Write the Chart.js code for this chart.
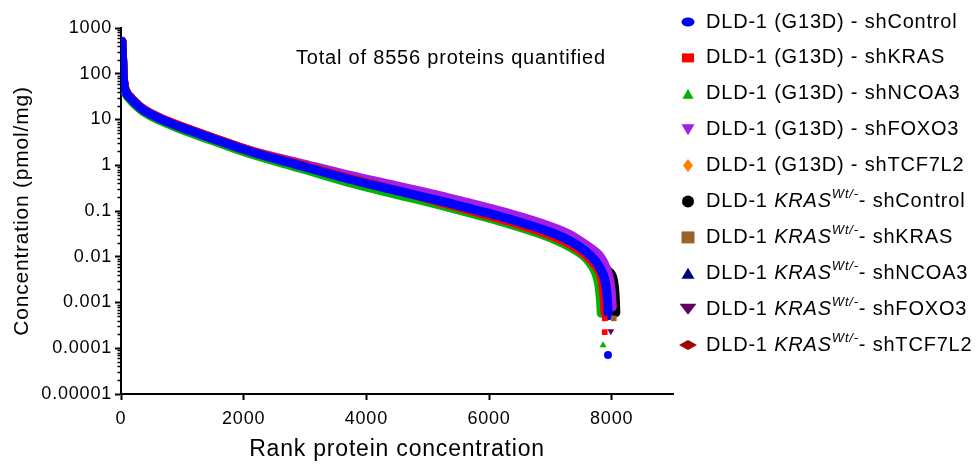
<!DOCTYPE html>
<html>
<head>
<meta charset="utf-8">
<script src="https://cdn.jsdelivr.net/npm/chart.js@4.4.1/dist/chart.umd.min.js"></script>
<style>
  html, body { margin: 0; padding: 0; background: #fff; }
  canvas { display: block; }
</style>
</head>
<body>
<canvas id="chart" width="978" height="464"></canvas>
<script>
// rank positions shared by every series for the main body of the curve
const ranks = [15, 25, 35, 49, 82, 147, 261, 359, 637, 914, 1453, 2106, 2923, 3739, 4555, 5371, 6351, 7004, 7331, 7576];

// concentrations (pmol/mg) at those ranks
const g13dControl = [507, 216, 92, 56, 39.5, 29.9, 21.0, 16.4, 10.4, 7.3, 4.0, 1.99, 0.98, 0.488, 0.267, 0.146, 0.0657, 0.0342, 0.0218, 0.0132];
const g13dKRAS    = [520, 235, 100, 60, 42, 31.5, 22.1, 17.2, 10.9, 7.7, 4.2, 2.09, 1.03, 0.51, 0.27, 0.135, 0.058, 0.0295, 0.0185, 0.011];
const g13dNCOA3   = [495, 205, 86, 52, 36.5, 27.5, 19.2, 15.0, 9.5, 6.6, 3.6, 1.78, 0.86, 0.41, 0.22, 0.117, 0.051, 0.026, 0.016, 0.0095];
const g13dFOXO3   = [500, 212, 90, 55, 39, 29.5, 20.8, 16.2, 10.3, 7.3, 4.1, 2.1, 1.12, 0.60, 0.34, 0.19, 0.087, 0.046, 0.030, 0.0185];
const g13dTCF7L2  = [490, 210, 89, 54, 38.5, 29, 20.3, 15.9, 10.0, 7.0, 3.85, 1.9, 0.93, 0.46, 0.25, 0.137, 0.061, 0.032, 0.0203, 0.0122];
const wtControl   = [510, 220, 94, 57, 40, 30.3, 21.3, 16.6, 10.6, 7.4, 4.1, 2.03, 1.0, 0.50, 0.275, 0.15, 0.068, 0.0355, 0.0227, 0.0140];
const wtKRAS      = [485, 208, 88, 53, 38, 28.8, 20.2, 15.8, 10.0, 7.0, 3.8, 1.88, 0.92, 0.455, 0.248, 0.134, 0.060, 0.031, 0.0197, 0.0118];
const wtNCOA3     = [480, 205, 87, 52.5, 37.5, 28.3, 19.9, 15.5, 9.8, 6.9, 3.75, 1.84, 0.90, 0.445, 0.24, 0.13, 0.058, 0.030, 0.019, 0.0114];
const wtFOXO3     = [500, 214, 92, 56, 39.5, 29.8, 21.0, 16.5, 10.5, 7.4, 4.1, 2.05, 1.03, 0.52, 0.29, 0.16, 0.073, 0.038, 0.0245, 0.015];
const wtTCF7L2    = [495, 212, 91, 55, 39, 29.4, 20.6, 16.1, 10.2, 7.15, 3.92, 1.95, 0.96, 0.475, 0.26, 0.142, 0.064, 0.0333, 0.0212, 0.0128];

// steep tail of each curve, [rank, concentration]
const g13dControlTail = [[7739, 0.00798], [7820, 0.00534], [7886, 0.00324], [7918, 0.00177], [7935, 0.00092], [7943, 0.00051]];
const g13dKRASTail    = [[7739, 0.0064], [7820, 0.0041], [7860, 0.0022], [7880, 0.0011], [7888, 0.00062]];
const g13dNCOA3Tail   = [[7690, 0.0060], [7760, 0.0037], [7800, 0.0020], [7820, 0.0010], [7830, 0.00058]];
const g13dFOXO3Tail   = [[7739, 0.0128], [7820, 0.0098], [7900, 0.0062], [7960, 0.0035], [7995, 0.0017], [8010, 0.0008]];
const g13dTCF7L2Tail  = [[7739, 0.0074], [7820, 0.0049], [7880, 0.0029], [7910, 0.0015], [7925, 0.0008]];
const wtControlTail   = [[7739, 0.0088], [7850, 0.0065], [7950, 0.0048], [8030, 0.0030], [8058, 0.0013], [8068, 0.0006]];
const wtKRASTail      = [[7739, 0.0071], [7820, 0.0050], [7900, 0.0032], [7970, 0.0017], [8000, 0.0009], [8015, 0.0006]];
const wtNCOA3Tail     = [[7739, 0.0068], [7820, 0.0046], [7880, 0.0027], [7920, 0.0014], [7935, 0.0007]];
const wtFOXO3Tail     = [[7739, 0.0092], [7850, 0.0065], [7930, 0.0038], [7980, 0.0018], [8000, 0.0008]];
const wtTCF7L2Tail    = [[7739, 0.0078], [7820, 0.0052], [7900, 0.0030], [7950, 0.0015], [7975, 0.0007]];

// lowest, isolated proteins below the tails
const g13dControlLow = [[7940, 0.0000714]];
const g13dKRASLow    = [[7887, 0.00045], [7887, 0.000225]];
const g13dNCOA3Low   = [[7860, 0.000117]];
const wtKRASLow      = [[8034, 0.00045]];
const wtFOXO3Low     = [[7986, 0.000236]];

const hairpins = ['shControl', 'shKRAS', 'shNCOA3', 'shFOXO3', 'shTCF7L2'];
const yTickValues = [0.00001, 0.0001, 0.001, 0.01, 0.1, 1, 10, 100, 1000];
const yTickLabels = ['0.00001', '0.0001', '0.001', '0.01', '0.1', '1', '10', '100', '1000'];
const xTickValues = [0, 2000, 4000, 6000, 8000];
const xTickLabels = ['0', '2000', '4000', '6000', '8000'];
const noteText = 'Total of 8556 proteins quantified';

const FONT = '"Liberation Sans", Arial, Helvetica, sans-serif';

const series = [
  { body: g13dControl, tail: g13dControlTail, low: g13dControlLow, color: '#0000ff', style: 'circle', w: 13, h: 9 },
  { body: g13dKRAS, tail: g13dKRASTail, low: g13dKRASLow, color: '#ff0000', style: 'rect', w: 12, h: 9 },
  { body: g13dNCOA3, tail: g13dNCOA3Tail, low: g13dNCOA3Low, color: '#00b400', style: 'triangle', w: 11, h: 10 },
  { body: g13dFOXO3, tail: g13dFOXO3Tail, low: [], color: '#a31ee6', style: 'triangleDown', w: 13, h: 11 },
  { body: g13dTCF7L2, tail: g13dTCF7L2Tail, low: [], color: '#ff8000', style: 'diamond', w: 10, h: 13 },
  { body: wtControl, tail: wtControlTail, low: [], color: '#000000', style: 'circle', w: 12, h: 12 },
  { body: wtKRAS, tail: wtKRASTail, low: wtKRASLow, color: '#996326', style: 'rect', w: 13, h: 12 },
  { body: wtNCOA3, tail: wtNCOA3Tail, low: [], color: '#00007f', style: 'triangle', w: 13, h: 11 },
  { body: wtFOXO3, tail: wtFOXO3Tail, low: wtFOXO3Low, color: '#650063', style: 'triangleDown', w: 17, h: 11 },
  { body: wtTCF7L2, tail: wtTCF7L2Tail, low: [], color: '#a00000', style: 'diamond', w: 18, h: 10 }
];

function labelParts(i) {
  if (i < 5) return [{ t: 'DLD-1 (G13D) - ' + hairpins[i] }];
  return [{ t: 'DLD-1 ' }, { t: 'KRAS', it: true }, { t: 'Wt/-', it: true, sup: true }, { t: '- ' + hairpins[i - 5] }];
}

const chartPointStyle = { circle: 'circle', rect: 'rect', triangle: 'triangle', triangleDown: 'triangle', diamond: 'rectRot' };

const bandSets = series.map((s, i) => ({
  label: labelParts(i).map(p => p.t).join(''),
  data: ranks.map((r, j) => ({ x: r, y: s.body[j] })).concat(s.tail.map(p => ({ x: p[0], y: p[1] }))),
  showLine: true,
  borderColor: s.color,
  backgroundColor: s.color,
  borderWidth: 9,
  borderCapStyle: 'round',
  borderJoinStyle: 'round',
  cubicInterpolationMode: 'monotone',
  pointRadius: 0,
  order: i
}));

const lowSets = series.filter(s => s.low.length).map(s => ({
  label: 'low',
  data: s.low.map(p => ({ x: p[0], y: p[1] })),
  showLine: false,
  pointStyle: chartPointStyle[s.style],
  rotation: s.style === 'triangleDown' ? 180 : 0,
  pointRadius: 4,
  backgroundColor: s.color,
  borderColor: s.color,
  borderWidth: 0,
  order: -1
}));

function drawMarker(ctx, style, x, y, w, h, color) {
  ctx.fillStyle = color;
  ctx.beginPath();
  if (style === 'circle') ctx.ellipse(x, y, w / 2, h / 2, 0, 0, Math.PI * 2);
  else if (style === 'rect') ctx.rect(x - w / 2, y - h / 2, w, h);
  else if (style === 'triangle') { ctx.moveTo(x, y - h / 2); ctx.lineTo(x + w / 2, y + h / 2); ctx.lineTo(x - w / 2, y + h / 2); }
  else if (style === 'triangleDown') { ctx.moveTo(x, y + h / 2); ctx.lineTo(x + w / 2, y - h / 2); ctx.lineTo(x - w / 2, y - h / 2); }
  else if (style === 'diamond') { ctx.moveTo(x, y - h / 2); ctx.lineTo(x + w / 2, y); ctx.lineTo(x, y + h / 2); ctx.lineTo(x - w / 2, y); }
  ctx.closePath();
  ctx.fill();
}

const decor = {
  id: 'decor',
  beforeDraw(chart) {
    chart.ctx.letterSpacing = '0.8px';
  },
  afterDraw(chart) {
    const ctx = chart.ctx;
    const yScale = chart.scales.y;
    const left = chart.chartArea.left;
    ctx.save();

    // minor log ticks on the y axis
    ctx.strokeStyle = '#000';
    ctx.lineWidth = 1.5;
    for (let k = -5; k < 3; k++) {
      for (let m = 2; m < 10; m++) {
        const py = Math.round(yScale.getPixelForValue(m * Math.pow(10, k))) + 0.5;
        ctx.beginPath();
        ctx.moveTo(left - 3.5, py);
        ctx.lineTo(left, py);
        ctx.stroke();
      }
    }

    ctx.fillStyle = '#000';
    ctx.textBaseline = 'middle';
    ctx.textAlign = 'left';
    ctx.font = '20px ' + FONT;
    ctx.fillText(noteText, 296, 58);

    // legend
    series.forEach((s, i) => {
      const ry = 22 + i * 35.9;
      drawMarker(ctx, s.style, 688, ry, s.w, s.h, s.color);
      let tx = 706;
      ctx.fillStyle = '#000';
      labelParts(i).forEach(p => {
        ctx.font = (p.it ? 'italic ' : '') + (p.sup ? '13px ' : '20px ') + FONT;
        ctx.fillText(p.t, tx, p.sup ? ry - 7 : ry);
        tx += ctx.measureText(p.t).width;
      });
    });

    ctx.restore();
  }
};

new Chart(document.getElementById('chart'), {
  type: 'scatter',
  data: { datasets: bandSets.concat(lowSets) },
  options: {
    responsive: false,
    animation: false,
    layout: { padding: { top: 28, right: 305, bottom: 0, left: 0 } },
    plugins: { legend: { display: false }, tooltip: { enabled: false } },
    scales: {
      x: {
        type: 'linear',
        min: 0,
        max: 9000,
        afterBuildTicks: axis => { axis.ticks = xTickValues.map(v => ({ value: v })); },
        afterFit: axis => { axis.height = 70; },
        grid: { drawOnChartArea: false, drawTicks: true, tickLength: 6, tickWidth: 2, tickColor: '#000' },
        border: { display: true, color: '#000', width: 2 },
        ticks: { color: '#000', padding: 8, maxRotation: 0, font: { family: FONT, size: 18 }, callback: (v, i) => xTickLabels[i] },
        title: { display: true, text: 'Rank protein concentration', color: '#000', font: { family: FONT, size: 23 }, padding: { top: 0, bottom: 1 } }
      },
      y: {
        type: 'logarithmic',
        min: 0.00001,
        max: 1000,
        afterBuildTicks: axis => { axis.ticks = yTickValues.map(v => ({ value: v, major: true })); },
        afterFit: axis => { axis.width = 121; },
        grid: { drawOnChartArea: false, drawTicks: true, tickLength: 6, tickWidth: 2, tickColor: '#000' },
        border: { display: true, color: '#000', width: 2 },
        ticks: { color: '#000', padding: 3, font: { family: FONT, size: 18 }, callback: (v, i) => yTickLabels[i] },
        title: { display: true, text: 'Concentration (pmol/mg)', color: '#000', font: { family: FONT, size: 21 }, padding: { top: 10, bottom: 0 } }
      }
    }
  },
  plugins: [decor]
});
</script>
</body>
</html>
